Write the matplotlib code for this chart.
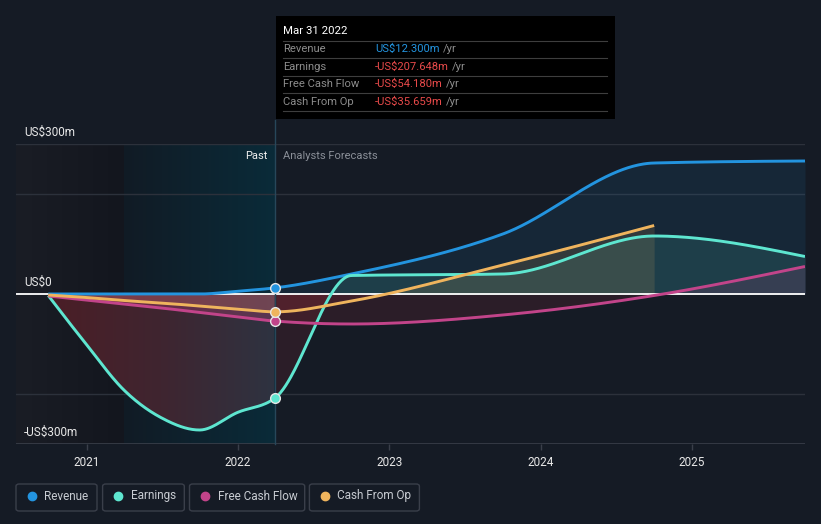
import numpy as np
import matplotlib
matplotlib.use("Agg")
import matplotlib.pyplot as plt
from matplotlib.patches import FancyBboxPatch, Rectangle
from matplotlib.colors import LinearSegmentedColormap
from matplotlib.lines import Line2D

# ---------------- data ----------------
past_dates = [2020.746, 2020.996, 2021.246, 2021.496, 2021.746, 2021.996, 2022.246]
forecast_dates = [2022.75, 2023.75, 2024.75, 2025.747]

revenue_past = [0, 0, 0, 0, 0, 5.5, 12.3]
revenue_fc = [40, 120, 262, 266]
earnings_past = [-3, -100, -192, -248, -272, -237, -207.648]
earnings_fc = [37, 40, 116, 75]
fcf_past = [-4, -12, -20, -28, -37, -46, -54.18]
fcf_fc = [-60, -42, -3, 55]
cfo_past = [-2, -7, -13, -18, -24, -30, -35.659]
cfo_fc = [-14, 58, 137]

year_ticks = [2021, 2022, 2023, 2024, 2025]
year_labels = ["2021", "2022", "2023", "2024", "2025"]
y_labels = ["US$300m", "US$0", "-US$300m"]
y_label_vals = [300, 0, -300]
grid_vals = [300, 200, -200]

series_names = ["Revenue", "Earnings", "Free Cash Flow", "Cash From Op"]
series_colors = ["#2394df", "#5ee6d0", "#c2448a", "#efb45d"]
tooltip_date = "Mar 31 2022"
tooltip_values = ["US$12.300m", "-US$207.648m", "-US$54.180m", "-US$35.659m"]
tooltip_colors = ["#2394df", "#e84a4a", "#e84a4a", "#e84a4a"]

now_x = 2022.246
highlight_start = 2021.246
xmin, xmax = 2020.533, 2025.747
ymin, ymax = -300, 300

BG = "#151b25"
FONT = "Roboto"
plt.rcParams["font.family"] = [FONT, "DejaVu Sans"]

W, H = 821, 524


def monotone(xs, ys, n=600):
    xs = np.asarray(xs, float)
    ys = np.asarray(ys, float)
    h = np.diff(xs)
    s = np.diff(ys) / h
    m = np.zeros(len(xs))
    for i in range(1, len(xs) - 1):
        p = (s[i - 1] * h[i] + s[i] * h[i - 1]) / (h[i - 1] + h[i])
        m[i] = (np.sign(s[i - 1]) + np.sign(s[i])) * min(abs(s[i - 1]), abs(s[i]), 0.5 * abs(p))
    if len(xs) > 2:
        m[0] = (3 * s[0] - m[1]) / 2
        m[-1] = (3 * s[-1] - m[-2]) / 2
    else:
        m[:] = s[0]
    xo = np.linspace(xs[0], xs[-1], n)
    idx = np.clip(np.searchsorted(xs, xo, side="right") - 1, 0, len(xs) - 2)
    x0 = xs[idx]; hh = h[idx]; t = (xo - x0) / hh
    y0 = ys[idx]; y1 = ys[idx + 1]; m0 = m[idx]; m1 = m[idx + 1]
    h00 = 2 * t**3 - 3 * t**2 + 1
    h10 = t**3 - 2 * t**2 + t
    h01 = -2 * t**3 + 3 * t**2
    h11 = t**3 - t**2
    yo = h00 * y0 + h10 * hh * m0 + h01 * y1 + h11 * hh * m1
    return xo, yo


def fx(px):
    return px / W


def fy(py):
    return 1 - py / H


fig = plt.figure(figsize=(W / 100, H / 100), dpi=100, facecolor=BG)
ax = fig.add_axes([fx(16), fy(444), (805 - 16) / W, 300 / H])
ax.set_facecolor("none")
for sp in ax.spines.values():
    sp.set_visible(False)

# background bands
left_cmap = LinearSegmentedColormap.from_list("l", ["#1a1d25", "#13161e"])
ax.imshow(np.linspace(0, 1, 256)[None, :], extent=[xmin, highlight_start, ymin, ymax],
          aspect="auto", cmap=left_cmap, zorder=0, interpolation="bilinear")
hl_cmap = LinearSegmentedColormap.from_list("h", ["#111b25", "#0a2b39"])
ax.imshow(np.linspace(0, 1, 256)[None, :], extent=[highlight_start, now_x, ymin, ymax],
          aspect="auto", cmap=hl_cmap, zorder=0, interpolation="bilinear")

# grid
for g in grid_vals:
    ax.axhline(g, color="#2c313b", lw=1, zorder=1)
ax.axhline(ymin, color="#3a3f4a", lw=1.2, zorder=1)

# build curves
rev_x, rev_y = monotone(past_dates + forecast_dates, revenue_past + revenue_fc)
ear_x, ear_y = monotone(past_dates + forecast_dates, earnings_past + earnings_fc)
fcf_x, fcf_y = monotone(past_dates + forecast_dates, fcf_past + fcf_fc)
cfo_x, cfo_y = monotone(past_dates + forecast_dates[:3], cfo_past + cfo_fc)

# past earnings gradient fill
mp = ear_x <= now_x + 1e-9
poly = ax.fill_between(ear_x[mp], ear_y[mp], 0, facecolor="none", edgecolor="none")
past_cmap = LinearSegmentedColormap.from_list("p", ["#4b1e26", "#3f2530", "#2e3341"])
im = ax.imshow(np.linspace(0, 1, 256)[None, :], extent=[past_dates[0], now_x, ymin, 0],
               aspect="auto", cmap=past_cmap, zorder=2, interpolation="bilinear")
im.set_clip_path(poly.get_paths()[0], transform=ax.transData)

# past FCF / CFO fills
m = fcf_x <= now_x + 1e-9
ax.fill_between(fcf_x[m], fcf_y[m], 0, color="#c0407a", alpha=0.3, lw=0, zorder=2)
m = cfo_x <= now_x + 1e-9
ax.fill_between(cfo_x[m], cfo_y[m], 0, color="#e8a060", alpha=0.15, lw=0, zorder=2)

# forecast fills
RED = "#d03040"
def fc_fill(x, y, pos_color, pos_alpha):
    m = x >= now_x - 1e-9
    xx, yy = x[m], y[m]
    ax.fill_between(xx, yy, 0, where=yy >= 0, interpolate=True, color=pos_color,
                    alpha=pos_alpha, lw=0, zorder=2)
    ax.fill_between(xx, yy, 0, where=yy <= 0, interpolate=True, color=RED,
                    alpha=0.12, lw=0, zorder=2)

fc_fill(rev_x, rev_y, series_colors[0], 0.10)
fc_fill(ear_x, ear_y, series_colors[1], 0.12)
fc_fill(fcf_x, fcf_y, series_colors[2], 0.15)
fc_fill(cfo_x, cfo_y, series_colors[3], 0.13)

# zero line
ax.axhline(0, color="white", lw=1.3, zorder=3)

# lines
for (x, y), c in zip([(rev_x, rev_y), (ear_x, ear_y), (fcf_x, fcf_y), (cfo_x, cfo_y)], series_colors):
    ax.plot(x, y, color=c, lw=2.1, zorder=4, solid_capstyle="butt")

# now line
ax.plot([now_x, now_x], [ymin, ymax + 48], color="#27475a", lw=1, zorder=3, clip_on=False)

# markers
now_vals = [revenue_past[-1], earnings_past[-1], fcf_past[-1], cfo_past[-1]]
for v, c in zip(now_vals, series_colors):
    ax.plot([now_x], [v], "o", ms=7, mfc=c, mec="#e6e6e6", mew=1, zorder=5)

ax.set_xlim(xmin, xmax)
ax.set_ylim(ymin, ymax)
ax.set_xticks(year_ticks)
ax.set_xticklabels(year_labels)
ax.tick_params(axis="x", colors="#3a3f4a", length=4, width=1, pad=5, labelsize=8.5,
               labelcolor="#e8e8e8")
ax.tick_params(axis="y", left=False, labelleft=False)

# y labels
for lab, v in zip(y_labels, y_label_vals):
    py = 294 - v * 0.5 - 12
    fig.text(fx(24), fy(py), lab, color="#e8e8e8", fontsize=8.5, va="center", ha="left")

fig.text(fx(267), fy(156), "Past", color="#f0f0f0", fontsize=8, va="center", ha="right")
fig.text(fx(283), fy(156), "Analysts Forecasts", color="#8a8f98", fontsize=8, va="center", ha="left")

# tooltip
fig.patches.append(Rectangle((fx(276), fy(119)), (615 - 276) / W, (119 - 16) / H,
                             transform=fig.transFigure, facecolor="black", edgecolor="none", zorder=10))
fig.text(fx(283), fy(31), tooltip_date, color="white", fontsize=8.2, va="center", ha="left", zorder=11)
for sy in [41, 58.3, 76, 93.3, 111]:
    fig.lines.append(Line2D([fx(283), fx(607)], [fy(sy), fy(sy)], transform=fig.transFigure,
                            color="#3e3e3e", lw=0.8, zorder=11))
row_y = [49.3, 66.7, 84.3, 101.7]
val_texts = []
for name, val, vc, ry in zip(series_names, tooltip_values, tooltip_colors, row_y):
    fig.text(fx(283), fy(ry), name, color="#8c8c8c", fontsize=8.1, va="center", ha="left", zorder=11)
    t = fig.text(fx(375), fy(ry), val, color=vc, fontsize=8.1, va="center", ha="left", zorder=11)
    val_texts.append((t, ry))

fig.canvas.draw()
r = fig.canvas.get_renderer()
for t, ry in val_texts:
    bb = t.get_window_extent(renderer=r)
    fig.text(bb.x1 / W + fx(3), fy(ry), "/yr", color="#8c8c8c", fontsize=8.1, va="center",
             ha="left", zorder=11)

# legend
legend_boxes = [(16, 97), (102.6, 184.3), (189.5, 304.7), (309.4, 419.4)]
for (x0, x1), name, c in zip(legend_boxes, series_names, series_colors):
    fig.patches.append(FancyBboxPatch((fx(x0), fy(511)), (x1 - x0) / W, 27 / H,
                                      boxstyle="round,pad=0,rounding_size=0.004",
                                      transform=fig.transFigure, facecolor="none",
                                      edgecolor="#3a3f4a", lw=1))
    fig.lines.append(Line2D([fx(x0 + 15.5)], [fy(496)], marker="o", ms=6, mfc=c, mec=c,
                            transform=fig.transFigure))
    fig.text(fx(x0 + 28), fy(496), name, color="#c8ccd2", fontsize=8.5, va="center", ha="left")

fig.savefig("out.png", dpi=100, facecolor=BG)
